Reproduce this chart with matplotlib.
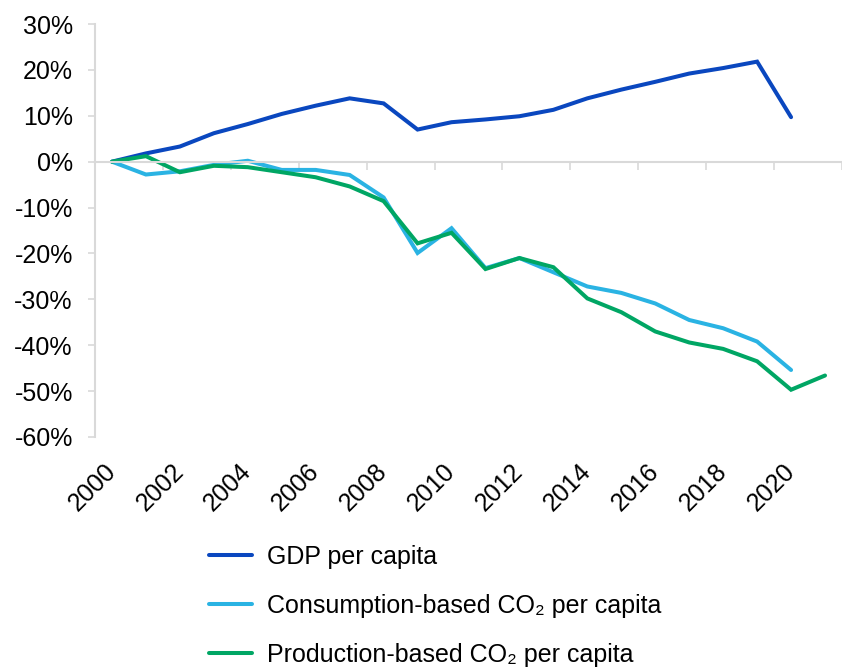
import numpy as np
import matplotlib
matplotlib.use('Agg')
import matplotlib.pyplot as plt

plt.rcParams['font.family'] = ['Liberation Sans', 'DejaVu Sans']

years = [str(y) for y in range(2000, 2022)]

# % change since 2000
gdp = [0, 1.8, 3.3, 6.2, 8.2, 10.4, 12.2, 13.8, 12.7, 7.0, 8.6,
       9.2, 9.9, 11.3, 13.8, 15.7, 17.4, 19.2, 20.4, 21.8, 9.7]
co2_cons = [0, -2.8, -2.1, -0.7, 0.2, -1.8, -1.8, -2.9, -7.8, -19.9, -14.5,
            -23.2, -21.0, -24.1, -27.2, -28.6, -30.9, -34.5, -36.3, -39.2, -45.4]
co2_prod = [0, 1.2, -2.3, -0.9, -1.2, -2.3, -3.4, -5.4, -8.6, -17.8, -15.5,
            -23.4, -21.0, -23.0, -29.8, -32.8, -37.0, -39.4, -40.8, -43.5, -49.7, -46.6]

labels = ['GDP per capita',
          'Consumption-based CO\u2082 per capita',
          'Production-based CO\u2082 per capita']
colors = ['#0a47bf', '#2ab3e3', '#00a664']
grey = '#d9d9d9'
fs = 18

fig = plt.figure(figsize=(8.42, 6.67), dpi=100)
ax = fig.add_axes([95/842, 1-437/667, (842-95)/842, (437-24)/667])

x = np.arange(len(years))
for vals, lab, c in zip([gdp, co2_cons, co2_prod], labels, colors):
    ax.plot(x[:len(vals)], vals, color=c, lw=2.9, label=lab,
            solid_capstyle='round', solid_joinstyle='miter')

ax.set_xlim(-0.5, len(years) - 0.5)
ax.set_ylim(-60, 30)
yt = np.arange(-60, 31, 10)
ax.set_yticks(yt)
ax.set_yticklabels(['%d%%' % v for v in yt], fontsize=fs)
ax.tick_params(axis='y', length=5, width=1.2, color=grey, pad=11)

for s in ['top', 'right']:
    ax.spines[s].set_visible(False)
ax.spines['left'].set_color(grey)
ax.spines['left'].set_linewidth(1.5)
ax.spines['bottom'].set_position(('data', 0))
ax.spines['bottom'].set_color(grey)
ax.spines['bottom'].set_linewidth(1.5)
ax.set_xticks(np.arange(-0.5, len(years), 2))
ax.set_xticklabels([])
ax.tick_params(axis='x', length=6, width=1.2, color=grey)

sec = ax.secondary_xaxis('bottom')
sec.spines['bottom'].set_visible(False)
sec.set_xticks(x[::2])
sec.set_xticklabels(years[::2], rotation=45, ha='right', va='center',
                    rotation_mode='anchor', fontsize=fs)
sec.tick_params(axis='x', length=0, pad=22)

fig.legend(loc='upper left', bbox_to_anchor=(209/842, 1-545/667), frameon=False,
           fontsize=fs, handlelength=1.72, handletextpad=0.6, labelspacing=1.0,
           borderpad=0, borderaxespad=0)

fig.savefig('out.png', dpi=100)
